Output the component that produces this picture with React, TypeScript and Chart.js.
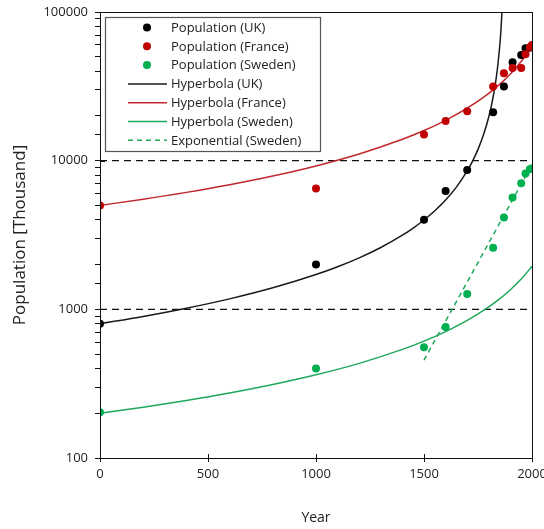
import React, { useEffect, useRef } from 'react';
import { Chart, registerables } from 'chart.js';

Chart.register(...registerables);

// Observed population data (thousands)
const pointYears = [0, 1000, 1500, 1600, 1700, 1820, 1870, 1910, 1950, 1970, 1990, 2000];
const ukPopulation = [800, 2000, 4000, 6250, 8650, 21200, 31500, 46000, 51300, 57000, 57500, 59000];
const francePopulation = [5000, 6500, 15000, 18500, 21500, 31500, 38800, 42000, 42000, 52000, 58000, 60000];
const swedenPopulation = [203, 400, 555, 760, 1270, 2600, 4150, 5650, 7050, 8200, 8750, 8900];

// Fitted curves
const ukCurveYears = [0, 200, 400, 600, 800, 1000, 1100, 1200, 1300, 1400, 1450, 1500, 1550, 1600, 1650, 1700, 1725, 1750, 1775, 1800, 1815, 1830, 1840, 1850, 1855, 1860, 1863];
const ukCurve = [800, 895, 1017, 1176, 1395, 1713, 1934, 2220, 2606, 3153, 3523, 3991, 4604, 5438, 6641, 8527, 9939, 11911, 14859, 19747, 24603, 32626, 41689, 57723, 71467, 93800, 115400];
const curveYears = [0, 200, 400, 600, 800, 1000, 1200, 1400, 1500, 1600, 1700, 1800, 1850, 1900, 1950, 2000];
const franceCurve = [5000, 5504, 6120, 6893, 7888, 9219, 11091, 13917, 15949, 18675, 22526, 28377, 32612, 38333, 46489, 59054];
const swedenCurve = [200, 219.7, 243.7, 273.7, 312, 362.7, 433.2, 537.8, 611.5, 708.7, 842.7, 1039, 1176, 1355, 1598, 1947];
const expYears = [1500, 2000];
const swedenExp = [455, 9400];

const refLevels = [10000, 1000];
const refYears = [0, 2000];
const xTickStep = 500;

const legendLabels = [
  'Population (UK)',
  'Population (France)',
  'Population (Sweden)',
  'Hyperbola (UK)',
  'Hyperbola (France)',
  'Hyperbola (Sweden)',
  'Exponential (Sweden)',
];

const FONT = '"Open Sans", "DejaVu Sans", sans-serif';

const toXY = (xs: number[], ys: number[]) => xs.map((x, i) => ({ x, y: ys[i] }));

const isMajor = (v: number) => Math.abs(Math.log10(v) - Math.round(Math.log10(v))) < 1e-9;

const framePlugin = {
  id: 'frameAndTicks',
  afterDatasetsDraw(chart: any) {
    const { ctx, chartArea } = chart;
    const xs = chart.scales.x;
    const ys = chart.scales.y;
    ctx.save();
    ctx.strokeStyle = '#111';
    ctx.lineWidth = 1;
    ctx.strokeRect(Math.round(chartArea.left) + 0.5, Math.round(chartArea.top) + 0.5,
      Math.round(chartArea.right - chartArea.left), Math.round(chartArea.bottom - chartArea.top));
    // inner halves of major ticks
    ctx.beginPath();
    ys.ticks.forEach((t: any) => {
      if (isMajor(t.value)) {
        const y = Math.round(ys.getPixelForValue(t.value)) + 0.5;
        ctx.moveTo(chartArea.left, y);
        ctx.lineTo(chartArea.left + 5, y);
      }
    });
    xs.ticks.forEach((t: any) => {
      const x = Math.round(xs.getPixelForValue(t.value)) + 0.5;
      ctx.moveTo(x, chartArea.bottom);
      ctx.lineTo(x, chartArea.bottom - 4);
    });
    ctx.stroke();
    ctx.restore();
  },
};

const legendPlugin = {
  id: 'boxLegend',
  afterDraw(chart: any) {
    const ctx = chart.ctx;
    const ds = chart.data.datasets;
    ctx.save();
    const bx = 105.5, by = 17.5, bw = 215, bh = 134;
    ctx.fillStyle = '#ffffff';
    ctx.fillRect(bx, by, bw, bh);
    ctx.strokeStyle = '#555';
    ctx.lineWidth = 1.2;
    ctx.strokeRect(bx, by, bw, bh);
    ctx.font = `13px ${FONT}`;
    ctx.textBaseline = 'middle';
    ctx.textAlign = 'left';
    legendLabels.forEach((label, i) => {
      const d = ds.find((e: any) => e.label === label);
      if (!d) return;
      const y = 27.5 + i * 18.8;
      if (d.showLine) {
        ctx.beginPath();
        ctx.strokeStyle = d.borderColor;
        ctx.lineWidth = d.borderWidth;
        ctx.setLineDash(d.borderDash || []);
        ctx.moveTo(128, y);
        ctx.lineTo(167, y);
        ctx.stroke();
        ctx.setLineDash([]);
      } else {
        ctx.beginPath();
        ctx.fillStyle = d.backgroundColor;
        ctx.arc(147, y, 4, 0, Math.PI * 2);
        ctx.fill();
      }
      ctx.fillStyle = '#222';
      ctx.fillText(label, 171, y + 0.5);
    });
    ctx.restore();
  },
};

export default function App() {
  const ref = useRef<HTMLCanvasElement | null>(null);

  useEffect(() => {
    if (!ref.current) return;
    const pointDs = (label: string, ys: number[], color: string, order: number) => ({
      label,
      data: toXY(pointYears, ys),
      showLine: false,
      pointRadius: 4,
      pointBorderWidth: 0,
      backgroundColor: color,
      borderColor: color,
      order,
    });
    const lineDs = (label: string, xs: number[], ys: number[], color: string, order: number, dash?: number[], width = 1.5) => ({
      label,
      data: toXY(xs, ys),
      showLine: true,
      pointRadius: 0,
      borderColor: color,
      backgroundColor: color,
      borderWidth: width,
      borderDash: dash || [],
      cubicInterpolationMode: 'monotone',
      order,
    });

    const chart = new Chart(ref.current, {
      type: 'scatter',
      data: {
        datasets: [
          pointDs('Population (France)', francePopulation, '#c00000', 0),
          pointDs('Population (UK)', ukPopulation, '#000000', 1),
          pointDs('Population (Sweden)', swedenPopulation, '#00b050', 2),
          lineDs('Hyperbola (UK)', ukCurveYears, ukCurve, '#1a1a1a', 3),
          lineDs('Hyperbola (France)', curveYears, franceCurve, '#c0282d', 4),
          lineDs('Hyperbola (Sweden)', curveYears, swedenCurve, '#1fa85a', 5),
          lineDs('Exponential (Sweden)', expYears, swedenExp, '#1fa85a', 6, [5, 4]),
          ...refLevels.map((lvl, i) =>
            lineDs(`ref${i}`, refYears, refYears.map(() => lvl), '#111111', 7 + i, [7, 5], 1.3)),
        ] as any,
      },
      options: {
        responsive: false,
        animation: false,
        events: [],
        layout: { padding: { top: 12, right: 12, left: 0, bottom: 0 } },
        plugins: {
          legend: { display: false },
          tooltip: { enabled: false },
        },
        scales: {
          x: {
            type: 'linear',
            min: 0,
            max: 2000,
            ticks: {
              stepSize: xTickStep,
              color: '#222',
              font: { family: FONT, size: 13 },
              padding: 4,
              maxRotation: 0,
              callback: (v: any) => String(Math.round(Number(v))),
            },
            grid: { drawOnChartArea: false, drawTicks: true, tickLength: 4, color: '#111' },
            border: { color: '#111', width: 1 },
            title: {
              display: true,
              text: 'Year',
              color: '#222',
              font: { family: FONT, size: 14 },
              padding: { top: 0, bottom: 3 },
            },
            afterFit: (s: any) => {
              s.height = 71;
              s.paddingLeft = 0;
              s.paddingRight = 0;
            },
          },
          y: {
            type: 'logarithmic',
            min: 100,
            max: 100000,
            ticks: {
              autoSkip: false,
              color: '#222',
              font: { family: FONT, size: 13 },
              padding: 7,
              callback: (v: any) => (isMajor(Number(v)) ? String(Math.round(Number(v))) : ''),
            },
            grid: { drawOnChartArea: false, drawTicks: true, tickLength: 5, color: '#111' },
            border: { color: '#111', width: 1 },
            title: {
              display: true,
              text: 'Population [Thousand]',
              color: '#222',
              font: { family: FONT, size: 17 },
              padding: { top: 10, bottom: 0 },
            },
            afterFit: (s: any) => {
              s.width = 100;
              s.paddingTop = 0;
              s.paddingBottom = 0;
            },
          },
        },
      },
      plugins: [framePlugin, legendPlugin],
    } as any);
    return () => chart.destroy();
  }, []);

  return (
    <canvas
      ref={ref}
      width={544}
      height={529}
      style={{ position: 'fixed', left: 0, top: 0, display: 'block', background: '#fff' }}
    />
  );
}
